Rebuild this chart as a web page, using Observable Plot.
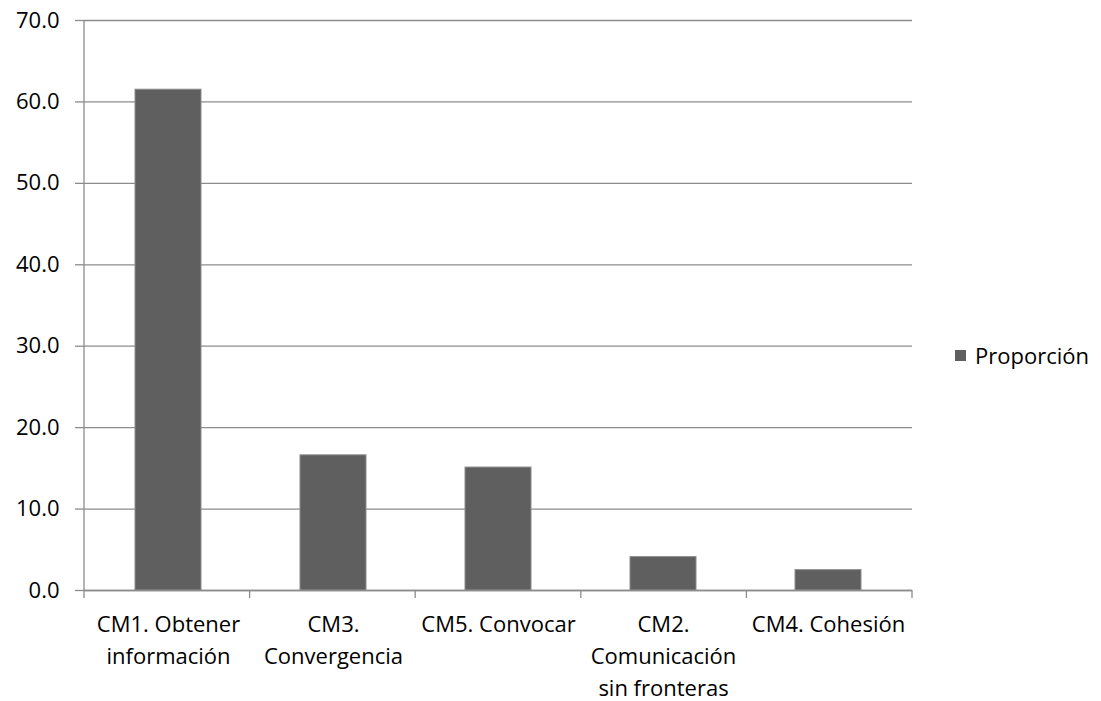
<!DOCTYPE html>
<html>
<head>
<meta charset="utf-8">
<script src="https://cdn.jsdelivr.net/npm/d3@7"></script>
<script src="https://cdn.jsdelivr.net/npm/@observablehq/plot@0.6"></script>
<style>
  html, body { margin: 0; padding: 0; background: #fff; }
  #wrap { position: relative; width: 1101px; height: 701px; }
  #legend { position: absolute; left: 955px; top: 340px; font: 22px "Open Sans", sans-serif; color: #000; display: flex; align-items: center; }
  #legend .sw { width: 11px; height: 11px; background: #5f5f5f; margin-right: 9px; }
</style>
</head>
<body>
<div id="wrap"><div id="legend"><div class="sw"></div><span>Proporción</span></div></div>
<script>
const categories = ["CM1. Obtener\ninformación", "CM3.\nConvergencia", "CM5. Convocar", "CM2.\nComunicación\nsin fronteras", "CM4. Cohesión"];
const values = [61.5, 16.6, 15.1, 4.1, 2.5];
const yTicks = [0, 10, 20, 30, 40, 50, 60, 70];
const seriesName = "Proporción";

const data = categories.map((c, i) => ({cat: c, value: values[i]}));
const gray = "#8c8c8c";

const boundaryTicks = (index, scales, values, dims) => {
  const g = d3.create("svg:g").attr("stroke", gray).attr("stroke-width", 1.3);
  const left = dims.marginLeft, right = dims.width - dims.marginRight;
  const y0 = dims.height - dims.marginBottom;
  const n = categories.length;
  const step = (right - left) / n;
  g.append("line").attr("x1", left).attr("x2", left).attr("y1", dims.marginTop).attr("y2", y0);
  for (let i = 0; i <= n; i++) {
    const xx = left + i * step;
    g.append("line").attr("x1", xx).attr("x2", xx).attr("y1", y0).attr("y2", y0 + 8);
  }
  return g.node();
};

const chart = Plot.plot({
  width: 1101,
  height: 701,
  marginLeft: 84,
  marginRight: 189,
  marginTop: 20,
  marginBottom: 111,
  style: {fontFamily: "'Open Sans', sans-serif", fontSize: "22px", color: "#000", background: "#fff"},
  x: {domain: categories, paddingInner: 0.6, paddingOuter: 0.3, label: null},
  y: {domain: [0, 70], label: null},
  marks: [
    Plot.gridY(yTicks, {stroke: gray, strokeOpacity: 1, strokeWidth: 1.3}),
    Plot.axisY(yTicks, {tickFormat: d3.format(".1f"), tickSize: 9, tickPadding: 16, stroke: gray, strokeWidth: 1.3, fill: "#000", label: null}),
    Plot.barY(data, {x: "cat", y: "value", fill: "#5f5f5f", stroke: "#8c8c8c", strokeWidth: 1}),
    Plot.ruleY([0], {stroke: gray, strokeWidth: 1.3}),
    boundaryTicks,
    Plot.axisX({tickSize: 0, tickPadding: 19, fill: "#000", lineHeight: 1.45, label: null})
  ]
});
document.getElementById("wrap").prepend(chart);
</script>
</body>
</html>
